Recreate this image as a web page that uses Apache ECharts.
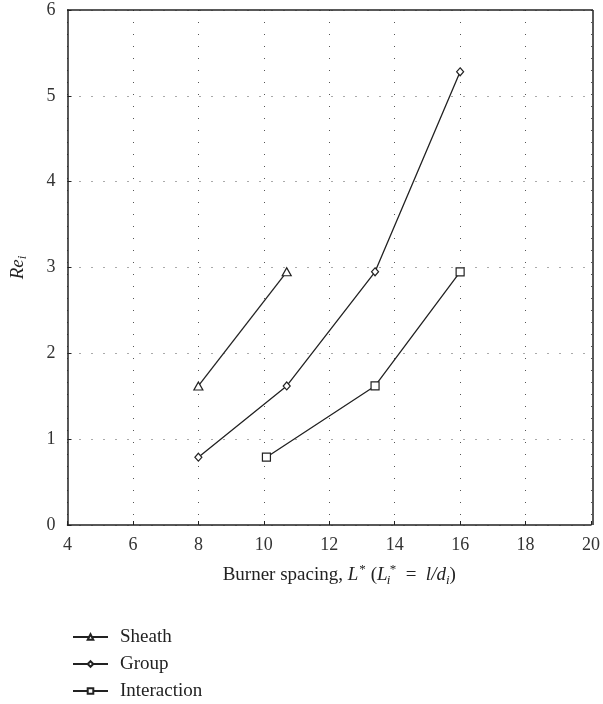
<!DOCTYPE html>
<html>
<head>
<meta charset="utf-8">
<script src="https://cdn.jsdelivr.net/npm/echarts@6/dist/echarts.min.js"></script>
<style>
  html, body { margin: 0; padding: 0; background: #fff; }
  #chart { width: 603px; height: 704px; }
</style>
</head>
<body>
<div id="chart"></div>
<script>
// Burner spacing L* vs. critical Reynolds number for each burning mode
const seriesNames = ['Sheath', 'Group', 'Interaction'];
const sheathX = [8.0, 10.7];
const sheathY = [1.62, 2.95];
const groupX = [8.0, 10.7, 13.4, 16.0];
const groupY = [0.79, 1.62, 2.95, 5.28];
const interactionX = [10.08, 13.4, 16.0];
const interactionY = [0.79, 1.62, 2.95];
const xTicks = [4, 6, 8, 10, 12, 14, 16, 18, 20];
const yTicks = [0, 1, 2, 3, 4, 5, 6];

const FONT = '"Liberation Serif", "DejaVu Serif", serif';
const INK = '#222';

function pairs(xs, ys) { return xs.map((x, i) => [x, ys[i]]); }

const markerStyle = { color: '#fff', borderColor: INK, borderWidth: 1.2 };

function lineSeries(name, data, symbol, size) {
  return {
    name: name,
    type: 'line',
    data: data,
    symbol: symbol,
    symbolSize: size,
    showSymbol: true,
    lineStyle: { color: INK, width: 1.3 },
    itemStyle: markerStyle,
    emphasis: { disabled: true },
    z: 3
  };
}

const chart = echarts.init(document.getElementById('chart'), null, { renderer: 'canvas' });

const gridDots = { show: true, lineStyle: { color: '#555', width: 1, type: [1, 11] } };

const nameRich = {
  r: { fontSize: 19, fontFamily: FONT, color: INK, lineHeight: 24 },
  i: { fontSize: 19, fontFamily: FONT, fontStyle: 'italic', color: INK, lineHeight: 24 },
  sup: { fontSize: 13, fontFamily: FONT, color: INK, lineHeight: 13, verticalAlign: 'top', padding: [0, 5, 0, 1] },
  subi: { fontSize: 13, fontFamily: FONT, fontStyle: 'italic', color: INK, lineHeight: 13, verticalAlign: 'bottom', width: 0, padding: [0, 0, 0, 1] },
  supi: { fontSize: 13, fontFamily: FONT, color: INK, lineHeight: 13, verticalAlign: 'top', padding: [0, 0, 0, 1] },
  sub: { fontSize: 13, fontFamily: FONT, fontStyle: 'italic', color: INK, lineHeight: 13, verticalAlign: 'bottom' }
};

chart.setOption({
  animation: false,
  backgroundColor: '#fff',
  textStyle: { fontFamily: FONT },
  grid: { left: 67, right: 10, top: 10, bottom: 179, show: false },
  xAxis: {
    type: 'value',
    min: xTicks[0], max: xTicks[xTicks.length - 1], interval: 2,
    axisLine: { show: true, onZero: false, lineStyle: { color: INK, width: 1.5 } },
    axisTick: { show: true, inside: true, length: 4, lineStyle: { color: INK } },
    axisLabel: { color: '#333', fontSize: 18, fontFamily: FONT, margin: 11 },
    splitLine: gridDots,
    name: '{r|Burner spacing, }{i|L}{sup|*}{r|(}{i|L}{subi|i}{supi|*}{r|  =  }{i|l/d}{sub|i}{r|)}',
    nameLocation: 'middle',
    nameGap: 38,
    nameTextStyle: { color: INK, fontFamily: FONT, padding: [0, 0, 0, 20], rich: nameRich }
  },
  yAxis: {
    type: 'value',
    min: yTicks[0], max: yTicks[yTicks.length - 1], interval: 1,
    axisLine: { show: true, onZero: false, lineStyle: { color: INK, width: 1.5 } },
    axisTick: { show: true, inside: true, length: 4, lineStyle: { color: INK } },
    axisLabel: { color: '#333', fontSize: 18, fontFamily: FONT, margin: 12 },
    splitLine: gridDots,
    name: '{i|Re}{sub|i}',
    nameLocation: 'middle',
    nameGap: 38,
    nameRotate: 90,
    nameTextStyle: { rich: nameRich }
  },
  legend: {
    orient: 'vertical',
    left: 72,
    top: 627,
    height: 90,
    padding: 0,
    itemGap: 7,
    itemWidth: 35,
    itemHeight: 7,
    textStyle: { fontFamily: FONT, fontSize: 19, lineHeight: 20, color: INK, padding: [0, 0, 0, 7] },
    data: seriesNames.map(n => ({ name: n })),
    selectedMode: false
  },
  graphic: [
    // closing box: top and right frame lines of the plot area
    { type: 'line', shape: { x1: 67, y1: 10, x2: 593, y2: 10 }, style: { stroke: INK, lineWidth: 1.5 }, z: 10 },
    { type: 'line', shape: { x1: 593, y1: 10, x2: 593, y2: 525 }, style: { stroke: INK, lineWidth: 1.5 }, z: 10 }
  ],
  series: [
    lineSeries(seriesNames[0], pairs(sheathX, sheathY), 'triangle', [9, 8]),
    lineSeries(seriesNames[1], pairs(groupX, groupY), 'diamond', [7, 8]),
    lineSeries(seriesNames[2], pairs(interactionX, interactionY), 'rect', 8)
  ]
});
</script>
</body>
</html>
